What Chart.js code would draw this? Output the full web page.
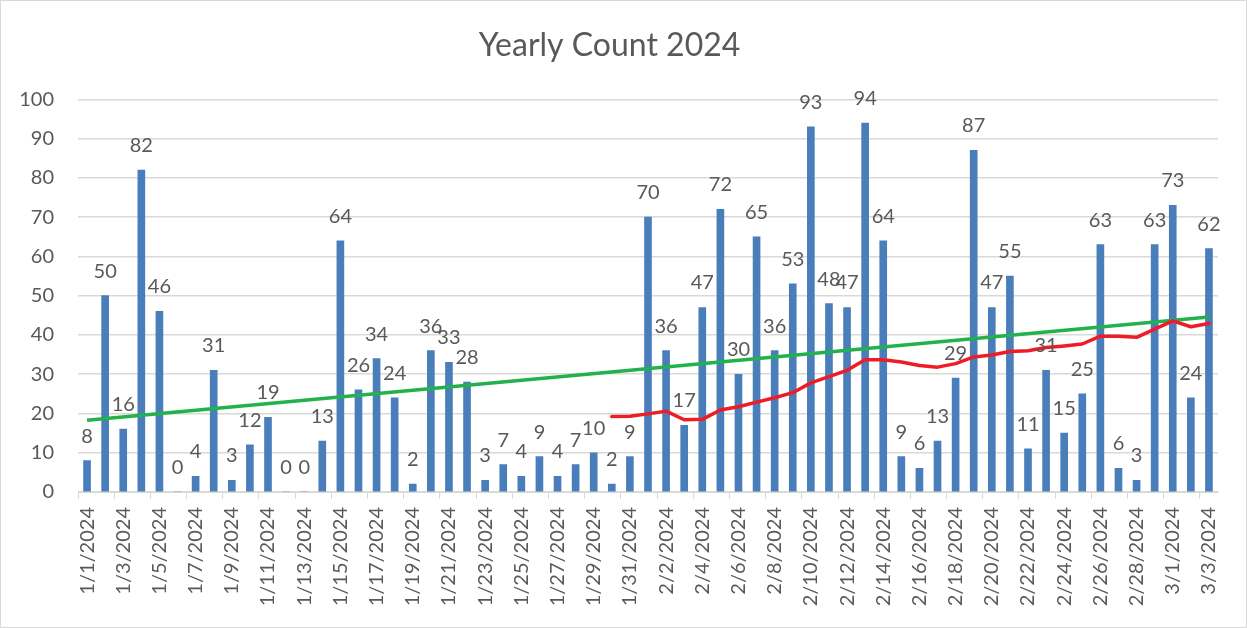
<!DOCTYPE html>
<html>
<head>
<meta charset="utf-8">
<script src="https://cdn.jsdelivr.net/npm/chart.js@4.4.1/dist/chart.umd.min.js"></script>
<style>
  html, body { margin: 0; padding: 0; background: #fff; }
  #wrap { position: absolute; left: 0; top: 0; width: 1247px; height: 628px; box-sizing: border-box; border: 1px solid #d9d9d9; }
</style>
</head>
<body>
<div id="wrap"><canvas id="chart"></canvas></div>
<script>
const days = [
  '1/1/2024','1/2/2024','1/3/2024','1/4/2024','1/5/2024','1/6/2024','1/7/2024','1/8/2024','1/9/2024','1/10/2024',
  '1/11/2024','1/12/2024','1/13/2024','1/14/2024','1/15/2024','1/16/2024','1/17/2024','1/18/2024','1/19/2024','1/20/2024',
  '1/21/2024','1/22/2024','1/23/2024','1/24/2024','1/25/2024','1/26/2024','1/27/2024','1/28/2024','1/29/2024','1/30/2024',
  '1/31/2024','2/1/2024','2/2/2024','2/3/2024','2/4/2024','2/5/2024','2/6/2024','2/7/2024','2/8/2024','2/9/2024',
  '2/10/2024','2/11/2024','2/12/2024','2/13/2024','2/14/2024','2/15/2024','2/16/2024','2/17/2024','2/18/2024','2/19/2024',
  '2/20/2024','2/21/2024','2/22/2024','2/23/2024','2/24/2024','2/25/2024','2/26/2024','2/27/2024','2/28/2024','2/29/2024',
  '3/1/2024','3/2/2024','3/3/2024'
]

const counts = [
  8, 50, 16, 82, 46, 0, 4, 31, 3, 12,
  19, 0, 0, 13, 64, 26, 34, 24, 2, 36,
  33, 28, 3, 7, 4, 9, 4, 7, 10, 2,
  9, 70, 36, 17, 47, 72, 30, 65, 36, 53,
  93, 48, 47, 94, 64, 9, 6, 13, 29, 87,
  47, 55, 11, 31, 15, 25, 63, 6, 3, 63,
  73, 24, 62
]

// 30 day moving average (red)
const movingAvg = [
  null, null, null, null, null, null, null, null, null, null,
  null, null, null, null, null, null, null, null, null, null,
  null, null, null, null, null, null, null, null, null, 19.2,
  19.3, 19.9, 20.6, 18.4, 18.5, 20.9, 21.7, 22.9, 24.0, 25.3,
  27.8, 29.4, 31.0, 33.7, 33.7, 33.1, 32.2, 31.8, 32.7, 34.4,
  34.9, 35.8, 36.0, 36.8, 37.2, 37.7, 39.7, 39.7, 39.4, 41.5,
  43.6, 42.1, 42.9
]

// linear trend (green): start and end only
const trendStart = 18.3
const trendEnd = 44.6

const yTicks = [0, 10, 20, 30, 40, 50, 60, 70, 80, 90, 100]

const trend = days.map((d, i) => i === 0 ? trendStart : (i === days.length - 1 ? trendEnd : null))

const gray = '#595959'
const font = 'Lato, "Open Sans", sans-serif'

const barLabels = {
  id: 'barLabels',
  afterDatasetsDraw (chart) {
    const ctx = chart.ctx
    const meta = chart.getDatasetMeta(2)
    ctx.save()
    ctx.fillStyle = gray
    ctx.font = '20px ' + font
    ctx.textAlign = 'center'
    ctx.textBaseline = 'alphabetic'
    meta.data.forEach((bar, i) => {
      ctx.fillText(String(counts[i]), bar.x, bar.y - 18)
    })
    ctx.restore()
  }
}

const chart = new Chart(document.getElementById('chart'), {
  type: 'bar',
  data: {
    labels: days,
    datasets: [
      {
        type: 'line',
        data: movingAvg,
        borderColor: '#ee1c24',
        borderWidth: 3.5,
        pointRadius: 0,
        borderJoinStyle: 'round',
        borderCapStyle: 'round',
        order: 1
      },
      {
        type: 'line',
        data: trend,
        spanGaps: true,
        borderColor: '#22b14c',
        borderWidth: 3.5,
        pointRadius: 0,
        order: 2
      },
      {
        type: 'bar',
        data: counts,
        backgroundColor: '#4a7ebb',
        barThickness: 7,
        order: 3
      }
    ]
  },
  options: {
    responsive: true,
    maintainAspectRatio: false,
    animation: false,
    layout: { padding: { left: 0, right: 28, top: 0, bottom: 0 } },
    scales: {
      x: {
        afterFit (s) { s.height = 135 },
        grid: {
          drawOnChartArea: false,
          tickLength: 7,
          color: c => c.index % 2 === 0 ? '#d9d9d9' : 'rgba(0,0,0,0)'
        },
        border: { color: '#d9d9d9' },
        ticks: {
          autoSkip: false,
          maxRotation: 90,
          minRotation: 90,
          padding: 8,
          color: gray,
          font: { size: 20, family: font },
          callback: (v, i) => i % 2 === 0 ? days[i] : ''
        }
      },
      y: {
        min: 0,
        max: 100,
        afterFit (s) { s.width = 77 },
        afterBuildTicks (s) { s.ticks = yTicks.map(v => ({ value: v })) },
        grid: { color: '#d9d9d9', drawTicks: false, lineWidth: 1.5 },
        border: { display: false },
        ticks: {
          padding: 24,
          color: gray,
          font: { size: 20, family: font }
        }
      }
    },
    plugins: {
      legend: { display: false },
      tooltip: { enabled: false },
      title: {
        display: true,
        text: 'Yearly Count 2024',
        color: gray,
        padding: { top: 25, bottom: 35 },
        font: { size: 32, weight: 'normal', family: font }
      }
    }
  },
  plugins: [barLabels]
})
</script>
</body>
</html>
